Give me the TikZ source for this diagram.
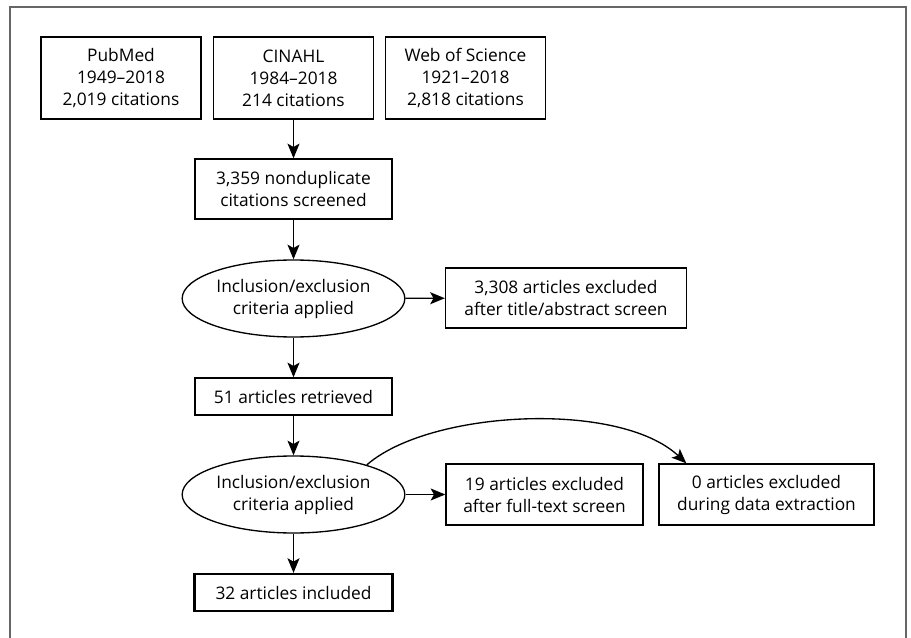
\documentclass[tikz,border=0pt]{standalone}
\usepackage{fontspec}
\setmainfont{Open Sans}
\usetikzlibrary{positioning, calc, arrows.meta, shapes.geometric}

\tikzset{
	box/.style={draw, line width=1pt, align=center, inner sep=0pt},
	oval/.style={draw, ellipse, line width=1pt, align=center, inner sep=0pt,
		minimum width=167pt, minimum height=57.75pt},
	flow/.style={line width=1pt, -{Stealth[length=11pt, width=9pt, inset=2.5pt]}}
}

\begin{document}
\begin{tikzpicture}[x=0.75pt, y=-0.75pt, font=\fontsize{13}{16.5}\selectfont]
\useasboundingbox (0, 0) rectangle (911, 638);
\draw[gray!80!black, line width=0.9pt] (10, 640) |- (906, 7) -- (906, 640);

\node[box, minimum width=120pt, minimum height=61.5pt] (pubmed) at (121, 78)
	{PubMed\\1949–2018\\2,019 citations};
\node[box, minimum width=120pt, minimum height=61.5pt] (cinahl) at (293.5, 78)
	{CINAHL\\1984–2018\\214 citations};
\node[box, minimum width=120pt, minimum height=61.5pt] (wos) at (465.5, 78)
	{Web of Science\\1921–2018\\2,818 citations};

\node[box, minimum width=147.75pt, minimum height=45pt] (screened) at (293.5, 189)
	{3,359 nonduplicate\\citations screened};
\node[oval] (crit1) at (293.5, 298.5) {Inclusion/exclusion\\criteria applied};
\node[box, minimum width=180.75pt, minimum height=45pt] (excl1) at (566, 298)
	{3,308 articles excluded\\after title/abstract screen};

\node[box, minimum width=147.75pt, minimum height=27.75pt] (retrieved) at (293.5, 396.5)
	{51 articles retrieved};
\node[oval] (crit2) at (293.5, 494.5) {Inclusion/exclusion\\criteria applied};
\node[box, minimum width=147.75pt, minimum height=45.75pt] (excl2) at (544.5, 494.5)
	{19 articles excluded\\after full-text screen};
\node[box, minimum width=161.25pt, minimum height=45.75pt] (excl3) at (766.5, 494.5)
	{0 articles excluded\\during data extraction};

\node[box, line width=1.6pt, minimum width=148.5pt, minimum height=27.75pt] (included) at (293.5, 592.5)
	{32 articles included};

\draw[flow] (cinahl) -- (screened);
\draw[flow] (screened) -- (crit1);
\draw[flow] (crit1) -- (excl1);
\draw[flow] (crit1) -- (retrieved);
\draw[flow] (retrieved) -- (crit2);
\draw[flow] (crit2) -- (excl2);
\draw[flow] (crit2) -- (included);
\coordinate (x3in) at ($(excl3.north west)+(28, 0)$);
\draw[flow] (crit2.22) .. controls +(63, -55) and +(-67, -63) .. (x3in);
\end{tikzpicture}
\end{document}
